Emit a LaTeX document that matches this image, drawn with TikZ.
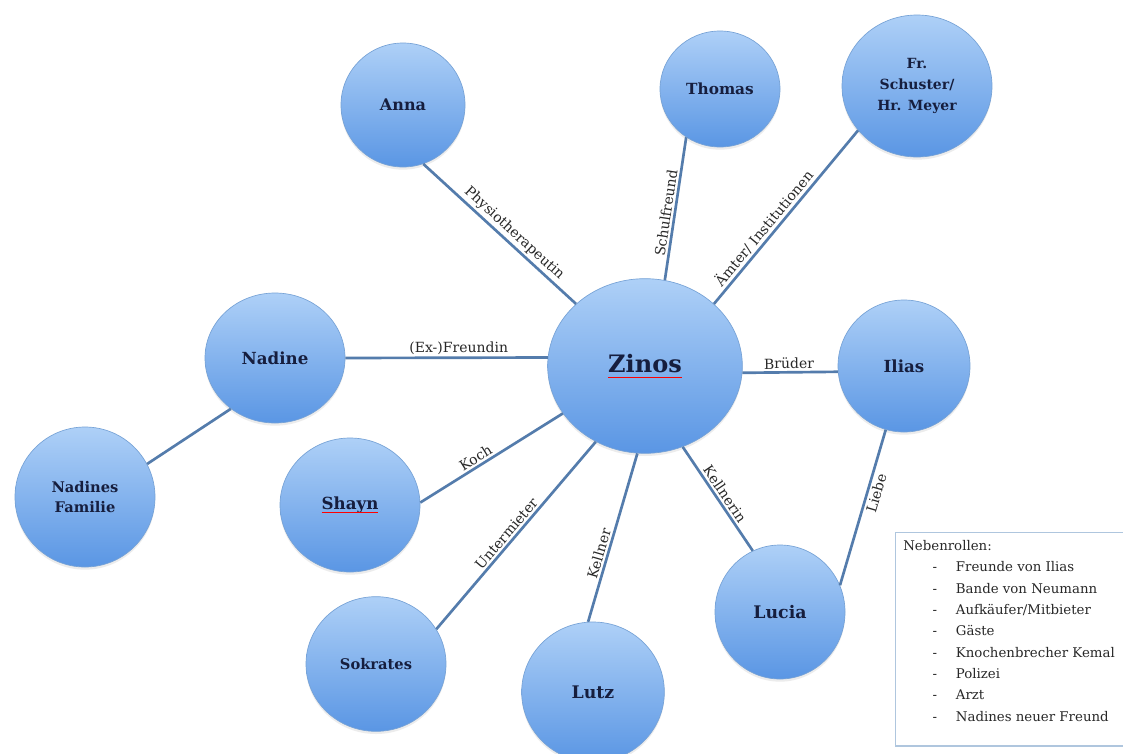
\documentclass[tikz,border=0pt]{standalone}
\usepackage{fontspec}
\setmainfont{DejaVu Serif}
\usetikzlibrary{shapes.geometric,shadows}
\definecolor{nodetop}{RGB}{174,208,247}
\definecolor{nodebot}{RGB}{90,150,228}
\definecolor{nodeedge}{RGB}{118,162,214}
\definecolor{conncol}{RGB}{84,124,172}
\definecolor{nodetext}{RGB}{22,30,62}
\definecolor{lbltext}{RGB}{40,40,40}
\definecolor{legborder}{RGB}{175,198,222}
\newsavebox\spellbox
\newcommand\spellul[1]{\sbox\spellbox{#1}\usebox\spellbox\llap{\textcolor{red}{\rule[-0.4ex]{\wd\spellbox}{0.6pt}}}}
\newcommand\legitem[1]{\hspace*{22pt}\makebox[17.5pt][l]{-}#1}
\begin{document}
\begin{tikzpicture}[x=0.75pt,y=-0.75pt,
  person/.style={ellipse, draw=nodeedge, line width=0.5pt, top color=nodetop, bottom color=nodebot,
    inner sep=0pt, align=center, text=nodetext,
    drop shadow={opacity=0.15, shadow xshift=0pt, shadow yshift=-2pt}},
  conn/.style={draw=conncol, line width=2pt},
  lbl/.style={font=\fontsize{10.5}{12}\selectfont, text=lbltext, inner sep=1.5pt, sloped},
  bf/.style={font=\bfseries\fontsize{#1}{#1}\selectfont}
]
\useasboundingbox (0,0) rectangle (1123,753);
\fill[white] (0,0) rectangle (1123,753);

\node[person, minimum width=146pt, minimum height=131pt, bf=18] (zinos) at (645,366) {\spellul{Zinos}};
\node[person, minimum width=93pt, minimum height=93pt, bf=12] (anna) at (403,105) {Anna};
\node[person, minimum width=90pt, minimum height=87pt, bf=11.5] (thomas) at (720,89) {Thomas};
\node[person, minimum width=112.5pt, minimum height=106.5pt, font=\bfseries\fontsize{10.5}{15.5}\selectfont] (schuster) at (917,86) {Fr.\\Schuster/\\Hr. Meyer};
\node[person, minimum width=105pt, minimum height=97.5pt, bf=12.5] (nadine) at (275,358) {Nadine};
\node[person, minimum width=99pt, minimum height=99pt, bf=12.5] (ilias) at (904,366) {Ilias};
\node[person, minimum width=105pt, minimum height=105pt, font=\bfseries\fontsize{11}{15}\selectfont] (familie) at (85,497) {Nadines\\Familie};
\node[person, minimum width=105pt, minimum height=100.5pt, bf=12.5] (shayn) at (350,505) {\spellul{Shayn}};
\node[person, minimum width=97.5pt, minimum height=100.5pt, bf=13] (lucia) at (780,612) {Lucia};
\node[person, minimum width=105pt, minimum height=101pt, bf=11] (sokrates) at (376,664) {Sokrates};
\node[person, minimum width=107pt, minimum height=105pt, bf=13] (lutz) at (593,692) {Lutz};

\draw[conn] (anna.-71) -- (zinos.138) node[lbl, above, pos=0.55] {Physiotherapeutin};
\draw[conn] (thomas.-125) -- (zinos.77) node[lbl, above, pos=0.54] {Schulfreund};
\draw[conn] (schuster.-143) -- (zinos.42) node[lbl, above, pos=0.6] {Ämter/ Institutionen};
\draw[conn] (nadine.east) -- (zinos.175) node[lbl, above, pos=0.56] {(Ex-)Freundin};
\draw[conn] (zinos.-4) -- (ilias.185) node[lbl, above, pos=0.49] {Brüder};
\draw[conn] (nadine.-131) -- (familie.28);
\draw[conn] (shayn.2) -- (zinos.-150) node[lbl, above, pos=0.42] {Koch};
\draw[conn] (sokrates.30) -- (zinos.-123) node[lbl, above, pos=0.48] {Untermieter};
\draw[conn] (lutz.94) -- (zinos.-95) node[lbl, above, pos=0.39] {Kellner};
\draw[conn] (zinos.-65) -- (lucia.114) node[lbl, above, pos=0.5] {Kellnerin};
\draw[conn] (ilias.-106) -- (lucia.24) node[lbl, below, pos=0.39] {Liebe};

\node[draw=legborder, line width=1pt, fill=white, minimum width=176pt, minimum height=160pt,
  anchor=north west, inner sep=0pt] (legend) at (895,532) {};
\node[anchor=north west, align=left, inner sep=0pt, text=lbltext,
  font=\fontsize{10}{16}\selectfont] (legtext) at (903,540) {Nebenrollen:\\
  \legitem{Freunde von Ilias}\\
  \legitem{Bande von Neumann}\\
  \legitem{Aufkäufer/Mitbieter}\\
  \legitem{Gäste}\\
  \legitem{Knochenbrecher Kemal}\\
  \legitem{Polizei}\\
  \legitem{Arzt}\\
  \legitem{Nadines neuer Freund}};
\end{tikzpicture}
\end{document}
